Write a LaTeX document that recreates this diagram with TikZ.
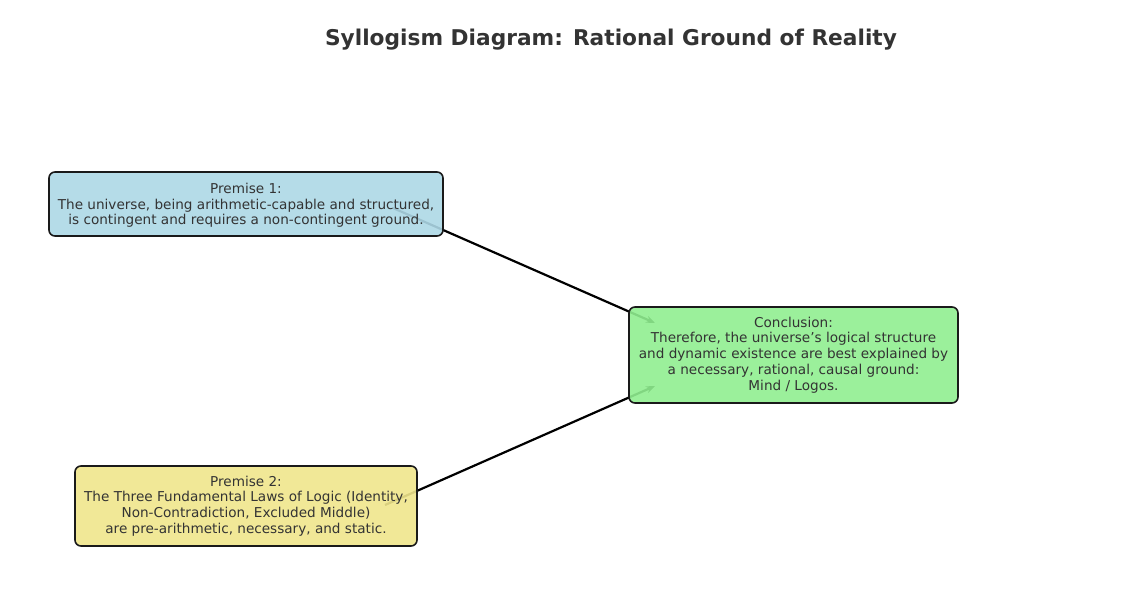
\documentclass[tikz,border=0pt]{standalone}
\usepackage{fontspec}
\setmainfont{DejaVu Sans}
\usetikzlibrary{arrows.meta,backgrounds}
\definecolor{pblue}{HTML}{ADD8E6}
\definecolor{pgreen}{HTML}{90EE90}
\definecolor{pkhaki}{HTML}{F0E68C}
\definecolor{txt}{HTML}{333333}
\definecolor{edge}{HTML}{1A1A1A}
\tikzset{
  box/.style={draw=edge, line width=1.6pt, rounded corners=6pt, fill opacity=0.9, text opacity=1,
    text=txt, align=center, inner sep=0pt, font=\fontsize{13.6}{15.8}\selectfont},
  conn/.style={draw=black, line width=2.2pt, -{Stealth[length=9pt,width=7pt]}},
}
\begin{document}
\begin{tikzpicture}[x=1pt,y=-1pt]
\useasboundingbox (0,0) rectangle (1125,594);
\node[font=\bfseries\fontsize{21.7}{24}\selectfont, text=txt] (title) at (611,40) {Syllogism Diagram: Rational Ground of Reality};
\node[box, fill=pblue, minimum width=394pt, minimum height=64pt, text depth=0pt] (p1) at (246,204)
  {\raisebox{0pt}{}Premise 1:\\The universe, being arithmetic-capable and structured,\\is contingent and requires a non-contingent ground.};
\node[box, fill=pgreen, minimum width=329pt, minimum height=96pt] (c) at (793.5,355)
  {Conclusion:\\Therefore, the universe’s logical structure\\and dynamic existence are best explained by\\a necessary, rational, causal ground:\\Mind / Logos.};
\node[box, fill=pkhaki, minimum width=342pt, minimum height=80pt] (p2) at (246,506)
  {Premise 2:\\The Three Fundamental Laws of Logic (Identity,\\Non-Contradiction, Excluded Middle)\\are pre-arithmetic, necessary, and static.};
\coordinate (s1) at (393,208);
\coordinate (e1) at (655,323);
\coordinate (s2) at (385,505);
\coordinate (e2) at (655,386);
\begin{pgfonlayer}{background}
\draw[conn] (s1) -- (e1);
\draw[conn] (s2) -- (e2);
\end{pgfonlayer}
\end{tikzpicture}
\end{document}
